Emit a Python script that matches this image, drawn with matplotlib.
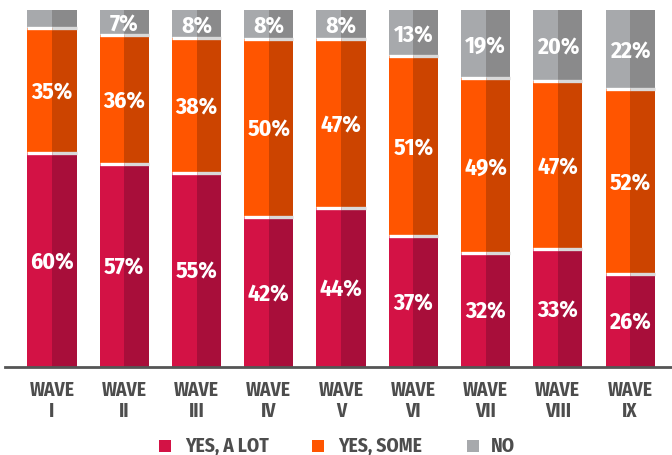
import numpy as np
import matplotlib
matplotlib.use("Agg")
import matplotlib.pyplot as plt
from matplotlib.patches import Rectangle
from matplotlib import font_manager

waves = ["I", "II", "III", "IV", "V", "VI", "VII", "VIII", "IX"]
a_lot = [60, 57, 55, 42, 44, 37, 32, 33, 26]
some = [35, 36, 38, 50, 47, 51, 49, 47, 52]
no = [5, 7, 8, 8, 8, 13, 19, 20, 22]

names = {f.name for f in font_manager.fontManager.ttflist}
fam = "Fira Sans Condensed" if "Fira Sans Condensed" in names else "DejaVu Sans"
plt.rcParams["font.family"] = [fam, "DejaVu Sans"]

light = ["#d31245", "#ff5500", "#a7a9ac"]
dark = ["#a80e3a", "#cc4400", "#8a8a8b"]
series = [a_lot, some, no]
labels = ["YES, A LOT", "YES, SOME", "NO"]

W, H = 672, 455
fig = plt.figure(figsize=(W / 100, H / 100), dpi=100)
ax = fig.add_axes([0, 88 / H, 1, 357 / H])

x = np.arange(len(waves))
hw = 0.34
totals = np.array(a_lot) + np.array(some) + np.array(no)
bottom = np.zeros(len(waves))
for k, vals in enumerate(series):
    vals = np.array(vals, dtype=float)
    h = vals / totals * 100  # each bar stretched to full height
    ax.bar(x - hw / 2, h, hw, bottom=bottom, color=light[k], linewidth=0)
    ax.bar(x + hw / 2, h, hw, bottom=bottom, color=dark[k], linewidth=0)
    for i in range(len(waves)):
        if k > 0:
            # thin separator on top of previous segment
            ax.plot([x[i] - hw, x[i]], [bottom[i], bottom[i]], color="white", lw=2.4, solid_capstyle="butt")
            ax.plot([x[i], x[i] + hw], [bottom[i], bottom[i]], color="#d9d9d9", lw=2.4, solid_capstyle="butt")
        if vals[i] >= 7:
            ax.text(x[i], bottom[i] + h[i] / 2, f"{int(vals[i])}%", ha="center", va="center_baseline",
                    color="white", fontsize=17, fontweight="bold")
    bottom += h

ax.set_ylim(0, 100)
ax.set_xlim(-0.72, 8.58)
ax.axis("off")
ax.axhline(0, xmin=5 / W, xmax=1, color="#555555", lw=2, clip_on=False)

for i, w in enumerate(waves):
    fig.text((52 + 72.25 * i) / W, 1 - 401 / H, f"WAVE\n{w}", ha="center", va="center",
             fontsize=14, fontweight="bold", color="#4d4d4d", linespacing=1.1)

# legend drawn by hand: square + label
sq_x = [159, 312, 467]
tx_x = [185, 338, 491]
for k in range(3):
    fig.patches.append(Rectangle((sq_x[k] / W, 1 - 452 / H), 12 / W, 12 / H,
                                 transform=fig.transFigure, color=light[k], lw=0))
    fig.text(tx_x[k] / W, 1 - 446 / H, labels[k], ha="left", va="center",
             fontsize=14, fontweight="bold", color="#4d4d4d")

fig.savefig("out.png", dpi=100)
